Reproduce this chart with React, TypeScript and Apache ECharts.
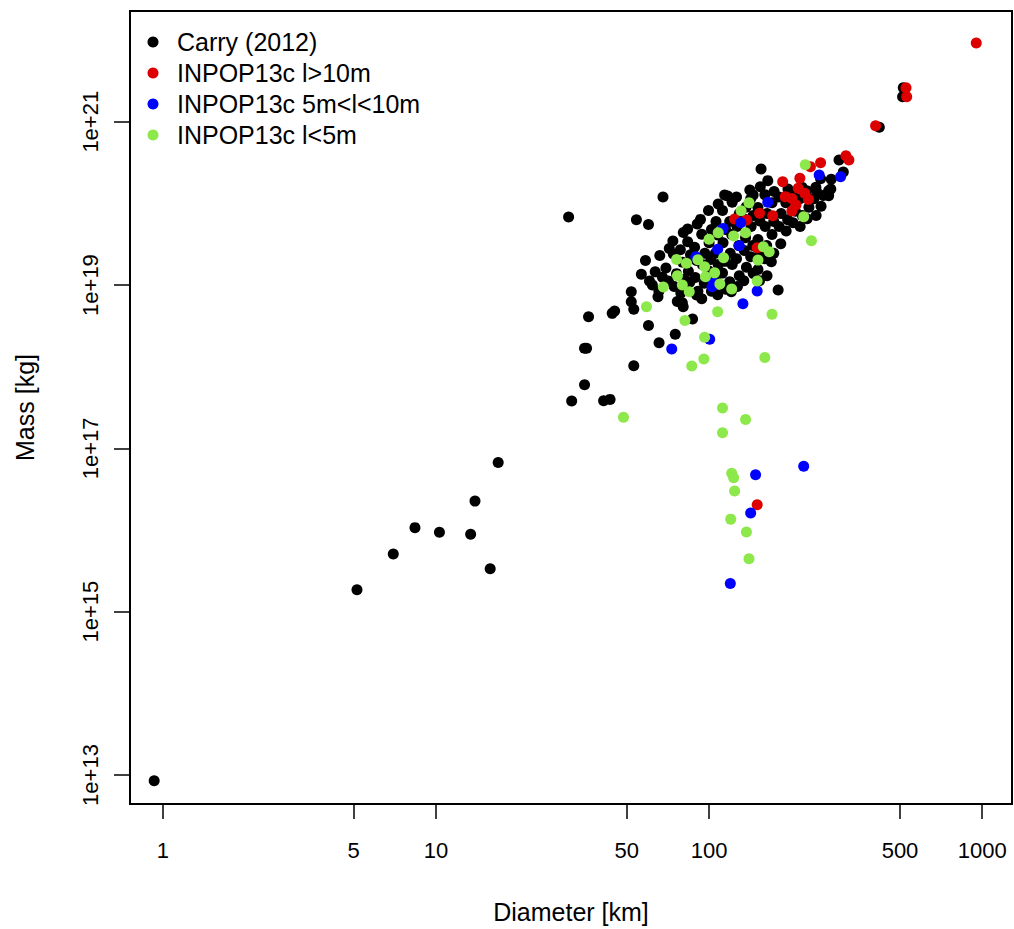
import React, { useEffect, useRef } from "react";
import * as echarts from "echarts";

const FONT = "'Liberation Sans', Arial, Helvetica, sans-serif";

const xTickValues = [1, 5, 10, 50, 100, 500, 1000];
const yTickValues = [1e13, 1e15, 1e17, 1e19, 1e21];
const seriesNames = ["Carry (2012)", "INPOP13c l>10m", "INPOP13c 5m<l<10m", "INPOP13c l<5m"];
const seriesColors = ["#000000", "#DD0000", "#0000FF", "#8CE84B"];

// [diameter km, mass kg]
const carry: [number, number][] = [
  [30.6, 6.8e19], [54.2, 6.3e19], [60, 5.5e19], [67.8, 1.2e20],
  [36.2, 4.1e18], [35.0, 1.68e18], [35.6, 1.68e18], [35.0, 6.0e17], [31.4, 3.8e17], [41.1, 3.83e17], [43.4, 3.98e17],
  [53, 1.03e18], [60, 3.2e18], [65.6, 1.97e18], [75.2, 2.5e18], [87, 3.84e18], [79.8, 6.08e18], [80.4, 5.43e18],
  [65, 7.2e18], [51.9, 8.3e18], [51.9, 6.25e18], [53, 5.05e18], [45.1, 4.81e18], [44.2, 4.5e18], [56.5, 1.36e19],
  [179, 8.7e18], [169, 1.93e19], [120.6, 8.3e18], [90, 7.55e18], [155, 2.64e20], [164, 1.9e20],
  [114, 1.27e20], [117, 1.23e20], [141, 1.46e20], [145, 1.27e20], [93, 6.37e19], [83.5, 4.85e19], [73.7, 3.46e19],
  [420, 8.54e20], [514, 2.61e21], [511, 2.02e21], [299, 3.4e20], [310, 2.42e20], [249, 1.35e20], [279, 1.5e20], [274, 1.24e20],
  [16.9, 6.7e16], [13.9, 2.26e16], [8.38, 1.07e16], [10.3, 9.4e15], [13.4, 8.9e15], [6.98, 5.1e15], [15.8, 3.36e15],
  [5.14, 1.86e15], [0.93, 8.5e12],
  // dense core
  [58.5, 2.0e19], [60.5, 1.12e19],
  [63.5, 1.45e19], [62.0, 1.0e19],
  [66.0, 2.3e19], [67.5, 1.25e19], [65.5, 8.4e18],
  [71.5, 2.8e19], [69.5, 1.62e19], [71.0, 1.12e19],
  [74.0, 2.4e19], [76.0, 1.38e19], [74.5, 9.6e18], [76.5, 6.3e18],
  [80.5, 4.4e19], [78.5, 2.7e19], [80.0, 1.9e19], [81.0, 1.18e19], [78.8, 8.0e18],
  [83.5, 3.4e19], [85.5, 2.35e19], [84.0, 1.48e19], [85.0, 1.08e19],
  [90.5, 5.6e19], [88.5, 2.9e19], [90.0, 2.0e19], [89.0, 1.24e19], [91.0, 8.4e18],
  [94.0, 4.2e19], [96.5, 2.45e19], [94.5, 1.78e19], [96.0, 1.05e19], [94.0, 6.8e18],
  [99.5, 8.2e19], [102, 4.8e19], [100, 3.3e19], [101.5, 2.05e19], [99.5, 1.5e19], [102, 8.4e18],
  [108, 9.8e19], [106, 6.0e19], [107.5, 4.1e19], [105.5, 2.45e19], [108, 1.78e19], [106, 1.12e19], [107.5, 7.6e18],
  [112, 8.2e19], [115, 4.8e19], [112.5, 3.3e19], [114.5, 1.95e19], [112, 1.4e19], [115, 8.9e18],
  [121.5, 1.03e20], [119, 6.0e19], [121, 4.15e19], [119.5, 2.45e19], [121.5, 1.78e19], [119, 1.1e19],
  [126, 1.2e20], [129, 7.5e19], [126.5, 5.2e19], [128.5, 3.05e19], [126, 2.1e19], [129, 1.3e19], [127, 9.6e18],
  [136.5, 9.0e19], [134, 6.5e19], [136, 3.8e19], [134.5, 2.65e19], [137, 1.65e19], [134, 1.13e19],
  [142, 1.14e20], [145, 7.1e19], [142.5, 5.2e19], [144.5, 3.05e19], [142, 2.22e19], [145, 1.39e19],
  [154, 1.6e20], [151, 8.9e19], [153.5, 6.1e19], [151, 3.6e19], [153.5, 2.5e19], [151, 1.55e19], [153, 1.13e19],
  [160, 1.28e20], [163, 7.5e19], [160.5, 5.2e19], [162.5, 3.05e19], [160, 2.1e19], [163, 1.3e19],
  [173, 1.4e20], [170, 1.02e20], [172.5, 6.0e19], [170, 4.15e19], [172.5, 2.45e19],
  [180, 1.2e20], [183.5, 7.5e19], [180.5, 5.2e19], [183, 3.2e19],
  [194.5, 1.5e20], [191, 1.02e20], [194, 6.3e19], [191.5, 4.6e19],
  [202, 1.35e20], [207, 8.0e19], [203, 5.8e19],
  [219, 1.58e20], [215, 1.14e20], [219.5, 7.1e19], [215.5, 5.2e19],
  [228, 1.43e20], [232, 9.0e19], [228.5, 6.5e19],
  [246, 1.58e20], [242, 1.14e20], [246.5, 7.1e19],
  [256, 2.0e20], [262, 1.25e20], [257, 9.2e19],
  [280, 1.98e20], [274, 1.43e20],
];

const inpopLarge: [number, number][] = [
  [951, 9.2e21], [526, 2.61e21], [529, 2.02e21], [407, 8.93e20], [317, 3.84e20], [325, 3.4e20], [256, 3.15e20],
  [235, 2.81e20], [215, 2.03e20], [186, 1.84e20], [212, 1.53e20], [224, 1.33e20], [231, 1.12e20], [190, 1.21e20],
  [201, 1.15e20], [208, 9.55e19], [201, 8.06e19], [153, 7.55e19], [171, 7.06e19], [124, 6.43e19], [137, 6.25e19],
  [150, 2.86e19], [150, 2.04e16],
];

const inpopMid: [number, number][] = [
  [303, 2.12e20], [253, 2.23e20], [164, 1.03e20], [130.6, 5.79e19], [112.5, 4.94e19], [107.5, 2.74e19], [129, 3.03e19],
  [89.4, 2.22e19], [102, 1.21e19], [102.5, 9.55e18], [150, 8.43e18], [133, 5.9e18], [100.5, 2.17e18], [73, 1.65e18],
  [148, 4.75e16], [222, 6.03e16], [142, 1.62e16], [119.6, 2.22e15],
];

const inpopSmall: [number, number][] = [
  [225, 2.98e20], [222, 6.86e19], [237, 3.49e19], [140, 1.02e20], [131, 8.13e19], [100, 3.63e19], [108, 4.37e19],
  [123, 3.98e19], [136, 4.37e19], [158, 2.94e19], [166, 2.56e19], [151, 2.02e19], [113, 2.16e19], [76, 2.06e19],
  [82.6, 1.85e19], [91, 2.04e19], [96.3, 1.68e19], [97, 1.26e19], [104.8, 1.41e19], [76.6, 1.3e19], [79.8, 1.0e19],
  [84.6, 8.3e18], [68, 9.46e18], [109.5, 1.03e19], [121, 8.96e18], [150, 1.12e19], [59, 5.43e18], [81.6, 3.68e18],
  [96.3, 2.29e18], [95.7, 1.24e18], [86.4, 1.02e18], [107.5, 4.71e18], [170, 4.38e18], [160, 1.3e18], [48.6, 2.4e17],
  [112, 3.12e17], [136, 2.26e17], [112, 1.55e17], [121, 4.95e16], [123, 4.36e16], [124, 3.0e16], [120, 1.36e16],
  [137, 9.44e15], [140, 4.44e15],
];

const allSeries = [carry, inpopLarge, inpopMid, inpopSmall];

export default function App() {
  const ref = useRef<HTMLDivElement>(null);
  useEffect(() => {
    const chart = echarts.init(ref.current!, null, { renderer: "svg" });
    const toLog = (arr: [number, number][]) => arr.map(([d, m]) => [Math.log10(d), Math.log10(m)]);
    const xTicks = xTickValues.map((v) => Math.log10(v));
    const yTicks = yTickValues.map((v) => Math.log10(v));
    chart.setOption({
      animation: false,
      textStyle: { fontFamily: FONT },
      grid: {
        left: 130, top: 11, width: 882, height: 793,
        show: true, borderColor: "#000", borderWidth: 2, backgroundColor: "transparent",
      },
      legend: {
        orient: "vertical", left: 147.5, top: 26.5, padding: 0, itemGap: 0,
        itemWidth: 38, itemHeight: 11, icon: "circle",
        data: seriesNames,
        textStyle: { fontFamily: FONT, fontSize: 25, lineHeight: 31, color: "#000" },
      },
      xAxis: {
        type: "value", min: -0.12, max: 3.109,
        name: "Diameter [km]", nameLocation: "middle", nameGap: 95,
        nameTextStyle: { fontFamily: FONT, fontSize: 25, color: "#000" },
        axisLine: { show: false, onZero: false },
        splitLine: { show: false },
        axisTick: { show: true, customValues: xTicks, length: 15, lineStyle: { color: "#000", width: 1.5 } },
        axisLabel: {
          customValues: xTicks, margin: 35, fontSize: 22, color: "#000", fontFamily: FONT,
          formatter: (v: number) => String(Math.round(Math.pow(10, v))),
        },
      },
      yAxis: {
        type: "value", min: 12.645, max: 22.356,
        name: "Mass [kg]", nameLocation: "middle", nameGap: 93, nameRotate: 90,
        nameTextStyle: { fontFamily: FONT, fontSize: 25, color: "#000" },
        axisLine: { show: false, onZero: false },
        splitLine: { show: false },
        axisTick: { show: true, customValues: yTicks, length: 16, lineStyle: { color: "#000", width: 1.5 } },
        axisLabel: {
          customValues: yTicks, margin: 29, rotate: 90, fontSize: 22, color: "#000", fontFamily: FONT,
          formatter: (v: number) => "1e+" + Math.round(v),
        },
      },
      series: allSeries.map((arr, i) => ({
        type: "scatter",
        name: seriesNames[i],
        data: toLog(arr),
        symbol: "circle",
        symbolSize: 11,
        itemStyle: { color: seriesColors[i], opacity: 1 },
        emphasis: { disabled: true },
      })),
    });
    return () => chart.dispose();
  }, []);
  return <div ref={ref} style={{ position: "absolute", left: 0, top: 0, width: 1014, height: 929 }} />;
}
